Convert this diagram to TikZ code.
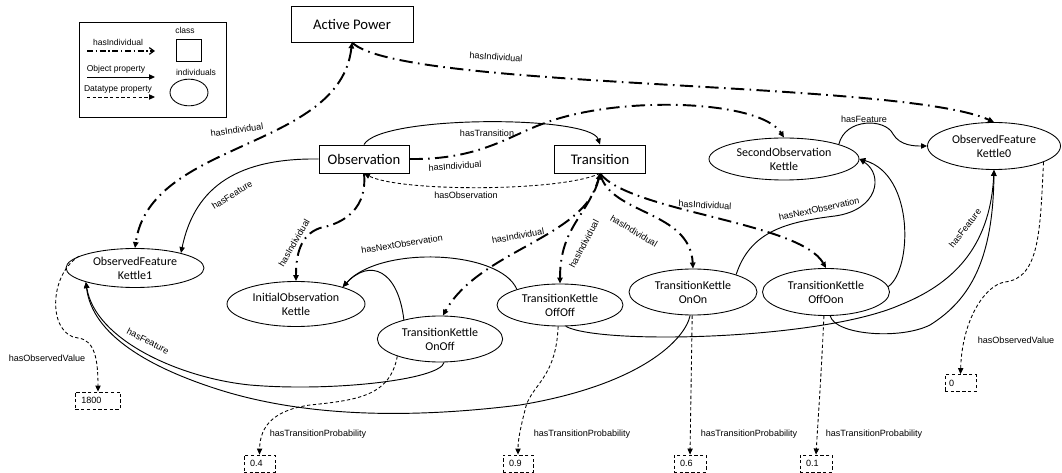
\documentclass[tikz,border=0pt]{standalone}
\usepackage{fontspec}
\setmainfont{Carlito}
\newfontfamily\labelfont{Liberation Sans}
\usetikzlibrary{shapes.geometric,arrows.meta}

\begin{document}
\begin{tikzpicture}[x=0.75pt,y=-0.75pt,
  cls/.style={draw,line width=0.65pt,rectangle,inner sep=0pt,font=\fontsize{11}{13}\selectfont},
  ind/.style={draw,line width=0.65pt,ellipse,inner sep=0pt,align=center,font=\fontsize{9}{10.5}\selectfont},
  lit/.style={draw,line width=0.65pt,dash pattern=on 2.5pt off 1.8pt,inner xsep=4.5pt,inner ysep=0pt,
              minimum height=12.75pt,align=left,font=\labelfont\fontsize{6.8}{8}\selectfont},
  lbl/.style={font=\labelfont\fontsize{6.8}{8}\selectfont,inner sep=0.5pt},
  lgl/.style={font=\labelfont\fontsize{6.4}{7.5}\selectfont,inner sep=0.5pt},
  tip/.style={-{Triangle[length=4.5pt,width=4pt]}},
  tipboth/.style={{Triangle[length=4.5pt,width=4pt]}-{Triangle[length=4.5pt,width=4pt]}},
  indiv/.style={line width=1.45pt,dash pattern=on 10pt off 4pt on 1.2pt off 4pt,tip},
  obj/.style={line width=0.7pt,tip},
  dat/.style={line width=0.65pt,dash pattern=on 2.5pt off 1.8pt,tip},
]
\useasboundingbox (0,0) rectangle (1062,473);

% ---------- legend ----------
\node[draw,line width=0.65pt,minimum width=110.25pt,minimum height=71.25pt,inner sep=0pt] (legend) at (152.5,69.5) {};
\node[lgl] (lgIndiv) at (118,42) {hasIndividual};
\coordinate (lgA1) at (87,51); \coordinate (lgA2) at (155,51);
\draw[line width=0.9pt,dash pattern=on 4.5pt off 2pt on 1pt off 2pt,-{Straight Barb[length=3.5pt,width=5pt]}] (lgA1) -- (lgA2);
\node[lgl] (lgClass) at (185,30) {class};
\node[draw,line width=0.65pt,minimum width=18.75pt,minimum height=16.5pt,inner sep=0pt] (lgBox) at (188.5,50) {};
\node[lgl] (lgObj) at (116,69) {Object property};
\coordinate (lgB1) at (87,77); \coordinate (lgB2) at (155,77);
\draw[obj] (lgB1) -- (lgB2);
\node[lgl] (lgInd) at (196,72) {individuals};
\node[draw,ellipse,line width=0.65pt,minimum width=28.5pt,minimum height=20pt,inner sep=0pt] (lgEll) at (189,92.5) {};
\node[lgl] (lgDat) at (118,89) {Datatype property};
\coordinate (lgC1) at (87,97); \coordinate (lgC2) at (155,97);
\draw[dat] (lgC1) -- (lgC2);

% ---------- classes ----------
\node[cls,minimum width=91.5pt,minimum height=27pt] (ap) at (352,24) {Active Power};
\node[cls,minimum width=67.5pt,minimum height=21pt] (obs) at (364,159) {Observation};
\node[cls,minimum width=68.25pt,minimum height=21pt] (tr) at (600,159) {Transition};

% ---------- individuals ----------
\node[ind,minimum width=112.5pt,minimum height=31.5pt] (so) at (784,159) {SecondObservation\\Kettle};
\node[ind,minimum width=99.75pt,minimum height=35.25pt] (k0) at (994,146) {ObservedFeature\\Kettle0};
\node[ind,minimum width=103.5pt,minimum height=29.25pt] (k1) at (135,268) {ObservedFeature\\Kettle1};
\node[ind,minimum width=103.5pt,minimum height=33.75pt] (io) at (296,304) {InitialObservation\\Kettle};
\node[ind,minimum width=94pt,minimum height=34.5pt] (onoff) at (440,339) {TransitionKettle\\OnOff};
\node[ind,minimum width=94.5pt,minimum height=31.5pt] (offoff) at (560,305) {TransitionKettle\\OffOff};
\node[ind,minimum width=96pt,minimum height=34.5pt] (onon) at (693,292) {TransitionKettle\\OnOn};
\node[ind,minimum width=95.25pt,minimum height=35.25pt] (offoon) at (826,292) {TransitionKettle\\OffOon};

% ---------- literal values ----------
\node[lit,text width=25pt] (v1800) at (98,400.5) {1800};
\node[lit,text width=14.25pt] (v04) at (259.5,463.5) {0.4};
\node[lit,text width=13.5pt] (v09) at (518,463.5) {0.9};
\node[lit,text width=15pt] (v06) at (690,463.5) {0.6};
\node[lit,text width=15pt] (v01) at (816,463.5) {0.1};
\node[lit,text width=17.25pt,inner xsep=3pt] (v0) at (960.5,383) {0};

% ---------- hasIndividual links ----------
\draw[indiv,tipboth] (ap.south) .. controls (340,150) and (150,140) .. (k1.north);
\draw[indiv] (ap.south) .. controls (400,90) and (900,80) .. (k0.north);
\draw[indiv] (obs.east) .. controls (480,160) and (510,135) .. (545,123) .. controls (620,95) and (760,100) .. (so.north);
\draw[indiv] (obs.south) .. controls (368,215) and (335,225) .. (320,228) .. controls (300,235) and (296,255) .. (io.north);
\draw[indiv,tipboth] (tr.south) .. controls (585,238) and (480,250) .. (onoff.83);
\draw[indiv] (tr.south) .. controls (590,215) and (560,225) .. (offoff.north);
\draw[indiv] (tr.south) .. controls (610,215) and (690,210) .. (onon.north);
\draw[indiv] (tr.south) .. controls (630,212) and (800,222) .. (offoon.north);

% ---------- object properties ----------
\draw[obj] (obs.north) .. controls (380,115) and (590,115) .. (tr.north);
\draw[obj] (obs.west) .. controls (240,158) and (195,185) .. (k1.18);
\draw[obj] (offoff.160) .. controls (500,250) and (380,245) .. (io.20);
\draw[obj] (onoff.152) .. controls (398,270) and (370,258) .. (io.20);
\draw[obj] (onoff.-80) .. controls (440,380) and (330,392) .. (250,385) .. controls (180,378) and (95,340) .. (k1.196);
\draw[obj] (onon.-97) .. controls (685,340) and (640,385) .. (520,405) .. controls (400,420) and (300,415) .. (220,390) .. controls (150,368) and (92,335) .. (k1.196);
\draw[obj] (offoff.-75) .. controls (600,345) and (820,340) .. (900,305) .. controls (950,285) and (990,250) .. (k0.south);
\draw[obj] (offoon.-80) .. controls (835,335) and (900,340) .. (930,325) .. controls (970,300) and (993,260) .. (k0.south);
\draw[obj] (onon.22) .. controls (750,232) and (785,222) .. (835,216) .. controls (878,210) and (884,175) .. (so.east);
\draw[obj] (offoon.5) .. controls (912,270) and (915,175) .. (so.east);
\draw[obj] (so.15) .. controls (845,118) and (885,118) .. (893,134) .. controls (900,146) and (915,146) .. (k0.west);

% ---------- datatype properties ----------
\draw[dat] (tr.south) .. controls (560,192) and (400,192) .. (obs.south);
\draw[dat] (k1.168) .. controls (48,275) and (48,335) .. (78,338) .. controls (95,340) and (98,360) .. (v1800.north);
\draw[dat] (k0.-18) .. controls (1040,230) and (1040,278) .. (1005,282) .. controls (985,285) and (962,320) .. (v0.north);
\draw[dat] (onoff.-158) .. controls (390,395) and (360,400) .. (310,405) .. controls (275,410) and (260,425) .. (v04.north);
\draw[dat] (offoff.-95) .. controls (556,380) and (530,385) .. (525,410) .. controls (520,430) and (518,440) .. (v09.north);
\draw[dat] (onon.-92) -- (v06.north);
\draw[dat] (offoon.-95) .. controls (821,380) and (818,420) .. (v01.north);

% ---------- labels ----------
\node[lbl,rotate=-4] (l1) at (496,57) {hasIndividual};
\node[lbl,rotate=8] (l2) at (237,130) {hasIndividual};
\node[lbl] (l3) at (487,133) {hasTransition};
\node[lbl,rotate=4] (l4) at (455,166) {hasIndividual};
\node[lbl] (l5) at (466,195) {hasObservation};
\node[lbl,rotate=32] (l6) at (232,195) {hasFeature};
\node[lbl,rotate=60] (l7) at (294,243) {hasIndividual};
\node[lbl,rotate=9] (l8) at (402,244) {hasNextObservation};
\node[lbl,rotate=10] (l9) at (518,236) {hasIndividual};
\node[lbl,rotate=62] (l10) at (584,244) {hasIndividual};
\node[lbl,rotate=-31] (l11) at (634,231) {hasIndividual};
\node[lbl,rotate=-3] (l12) at (705,205) {hasIndividual};
\node[lbl,rotate=12] (l13) at (819,209) {hasNextObservation};
\node[lbl] (l14) at (864,119) {hasFeature};
\node[lbl,rotate=52] (l15) at (965,228) {hasFeature};
\node[lbl] (l16) at (1016,340) {hasObservedValue};
\node[lbl] (l17) at (47,358) {hasObservedValue};
\node[lbl,rotate=-27] (l18) at (148,341) {hasFeature};
\node[lbl] (l19) at (318,434) {hasTransitionProbability};
\node[lbl] (l20) at (582,434) {hasTransitionProbability};
\node[lbl] (l21) at (749,434) {hasTransitionProbability};
\node[lbl] (l22) at (874,434) {hasTransitionProbability};
\end{tikzpicture}
\end{document}
